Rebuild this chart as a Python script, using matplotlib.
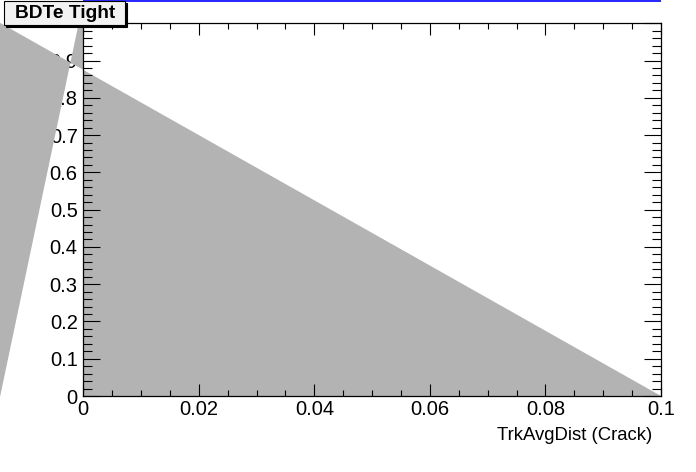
import matplotlib
matplotlib.use("Agg")
import matplotlib.pyplot as plt
from matplotlib.patches import Polygon, Rectangle
from matplotlib.ticker import FixedLocator, MultipleLocator

plt.rcParams['font.family'] = ['Liberation Sans', 'DejaVu Sans']

# ---- data ----
title = "BDTe Tight"
xlabel = "TrkAvgDist (Crack)"
x_ticks = [0.0, 0.02, 0.04, 0.06, 0.08, 0.1]
x_tick_labels = ["0", "0.02", "0.04", "0.06", "0.08", "0.1"]
y_ticks = [0.0, 0.1, 0.2, 0.3, 0.4, 0.5, 0.6, 0.7, 0.8, 0.9]
y_tick_labels = ["0", "0.1", "0.2", "0.3", "0.4", "0.5", "0.6", "0.7", "0.8", "0.9"]

# filled efficiency region (main, inside frame)
main_x = [0.0, 0.0, 0.1]
main_y = [0.0, 0.875, 0.0]
# stray fill pieces that spill outside the frame on the left
left_x = [-0.03, -0.0171, -0.00223, -0.03]
left_y = [-0.2, -0.2, 0.8945, 1.1375]
sliver_x = [-0.00223, 0.0, 0.0, -0.0008]
sliver_y = [0.8945, 0.875, 1.0, 1.0]
# blue reference line above the frame
blue_x = [0.0, 0.1]
blue_y = [1.0605, 1.0605]

W, H = 696, 472
fig = plt.figure(figsize=(W / 100, H / 100), dpi=100)
ax = fig.add_axes([83.3 / W, (H - 396) / H, (661 - 83.3) / W, (396 - 23.3) / H])
ax.set_xlim(0, 0.1)
ax.set_ylim(0, 1.0)

gray = '#b3b3b3'
ax.add_patch(Polygon(list(zip(main_x, main_y)), closed=True, facecolor=gray,
                     edgecolor='none', zorder=1))
ax.add_patch(Polygon(list(zip(left_x, left_y)), closed=True, facecolor=gray,
                     edgecolor='none', zorder=2, clip_on=False))
ax.add_patch(Polygon(list(zip(sliver_x, sliver_y)), closed=True, facecolor=gray,
                     edgecolor='none', zorder=2, clip_on=False))

ax.plot(blue_x, blue_y, color='#0000ff', lw=1.2, clip_on=False, zorder=3,
        solid_capstyle='butt')

ax.xaxis.set_major_locator(FixedLocator(x_ticks))
ax.set_xticklabels(x_tick_labels)
ax.xaxis.set_minor_locator(MultipleLocator(0.005))
ax.yaxis.set_major_locator(FixedLocator(y_ticks + [1.0]))
ax.set_yticklabels(y_tick_labels + [""])
ax.yaxis.set_minor_locator(MultipleLocator(0.02))

for s in ax.spines.values():
    s.set_linewidth(0.9)

ax.tick_params(axis='both', which='both', direction='in', top=True, right=True,
               width=0.8, labelsize=14.5, colors='black')
ax.tick_params(axis='x', which='major', length=8.6, pad=3)
ax.tick_params(axis='x', which='minor', length=4.3)
ax.tick_params(axis='y', which='major', length=12.2, pad=4)
ax.tick_params(axis='y', which='minor', length=6.5)

fig.text(652.7 / W, (H - 440) / H, xlabel, ha='right', va='baseline', fontsize=13.3)

# title box with shadow
bx0, bx1, by0, by1 = 4, 125, 1, 25
fig.add_artist(Rectangle(((bx0 + 2) / W, (H - by1 - 2) / H), (bx1 - bx0) / W,
                         (by1 - by0) / H, transform=fig.transFigure,
                         facecolor='black', edgecolor='black', lw=0.8, zorder=10))
fig.add_artist(Rectangle((bx0 / W, (H - by1) / H), (bx1 - bx0) / W,
                         (by1 - by0) / H, transform=fig.transFigure,
                         facecolor='#f2f2f2', edgecolor='black', lw=0.8, zorder=11))
fig.text(15 / W, (H - 18.5) / H, title, ha='left', va='baseline', fontsize=13.8,
         fontweight='bold', zorder=12)

fig.savefig("out.png", dpi=100)
